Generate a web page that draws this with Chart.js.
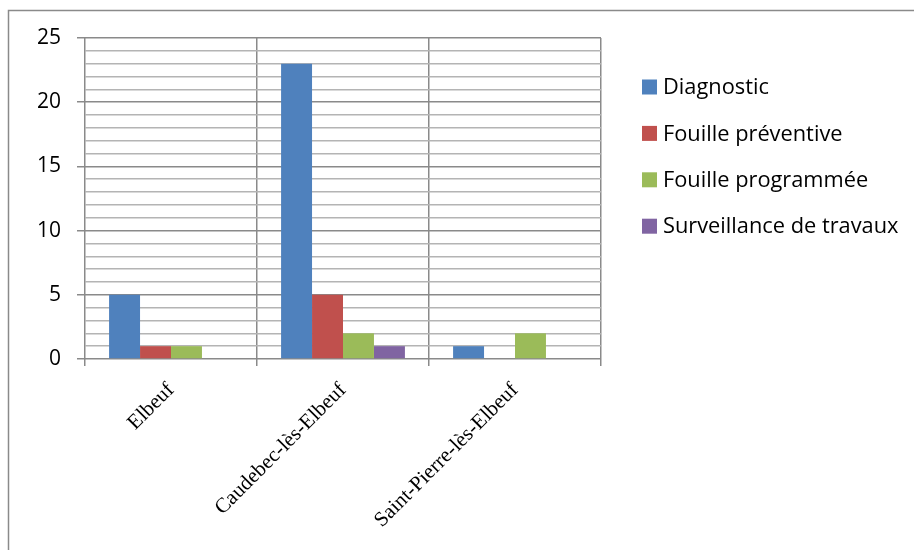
<!DOCTYPE html>
<html><head><meta charset="utf-8">
<script src="https://cdn.jsdelivr.net/npm/chart.js@4"></script>
<style>html,body{margin:0;padding:0;background:#fff}#wrap{width:914px;height:550px}</style>
</head><body><div id="wrap"><canvas id="c"></canvas></div>
<script>
const categories = ['Elbeuf', 'Caudebec-lès-Elbeuf', 'Saint-Pierre-lès-Elbeuf'];
const seriesNames = ['Diagnostic', 'Fouille préventive', 'Fouille programmée', 'Surveillance de travaux'];
const diagnostic = [5, 23, 1];
const fouillePreventive = [1, 5, 0];
const fouilleProgrammee = [1, 2, 2];
const surveillance = [0, 1, 0];
const yTickLabels = [0, 5, 10, 15, 20, 25];
const colors = ['#4F81BD', '#C0504D', '#9BBB59', '#8064A2'];

const seriesValues = [diagnostic, fouillePreventive, fouilleProgrammee, surveillance];

const borderPlugin = {
  id: 'outerBorder',
  beforeDraw(chart) {
    const ctx = chart.ctx;
    ctx.save();
    ctx.fillStyle = '#fff';
    ctx.fillRect(0, 0, chart.width, chart.height);
    ctx.strokeStyle = '#8a8a8a';
    ctx.lineWidth = 1.5;
    ctx.strokeRect(8.5, 10.5, chart.width + 20, chart.height + 20);
    ctx.restore();
  }
};

// Legend drawn from the datasets (the built-in side legend is capped in width)
const sideLegend = {
  id: 'sideLegend',
  afterDraw(chart) {
    const ctx = chart.ctx;
    const area = chart.chartArea;
    const x0 = area.right + 41;
    const y0 = area.top + 49;
    const step = 46.4;
    ctx.save();
    ctx.font = '21.8px "Open Sans"';
    ctx.textBaseline = 'middle';
    ctx.textAlign = 'left';
    chart.data.datasets.forEach((ds, i) => {
      const cy = y0 + i * step;
      ctx.fillStyle = ds.backgroundColor;
      ctx.fillRect(x0, cy - 7.5, 15, 15);
      ctx.fillStyle = '#000';
      ctx.fillText(ds.label, x0 + 21, cy + 1);
    });
    ctx.restore();
  }
};

function build() {
  new Chart(document.getElementById('c'), {
    type: 'bar',
    data: {
      labels: categories,
      datasets: seriesNames.map((n, i) => ({
        label: n,
        data: seriesValues[i],
        backgroundColor: colors[i],
        borderWidth: 0,
        categoryPercentage: 0.72,
        barPercentage: 1
      }))
    },
    options: {
      responsive: true,
      maintainAspectRatio: false,
      animation: false,
      layout: { padding: { left: 10, top: 38, right: 313, bottom: 0 } },
      plugins: {
        tooltip: { enabled: false },
        legend: { display: false }
      },
      scales: {
        x: {
          grid: {
            offset: true,
            color: '#8a8a8a',
            lineWidth: 1.5,
            tickLength: 7,
            drawTicks: true
          },
          border: { display: false },
          ticks: {
            maxRotation: 45, minRotation: 45,
            padding: 12,
            color: '#000',
            font: { family: 'Liberation Serif', size: 21 }
          },
          afterFit(s) { s.height = 191; }
        },
        y: {
          min: 0, max: 25,
          grid: {
            color: (c) => (c.tick && c.tick.value % 5 === 0) ? '#8a8a8a' : '#b4b4b4',
            tickColor: (c) => (c.tick && c.tick.value % 5 === 0) ? '#8a8a8a' : 'rgba(0,0,0,0)',
            lineWidth: 1.5,
            tickLength: 8
          },
          border: { display: false },
          ticks: {
            stepSize: 1,
            autoSkip: false,
            padding: 16,
            color: '#000',
            font: { family: 'Open Sans', size: 21 },
            callback: (v) => yTickLabels.includes(v) ? String(v) : ''
          },
          afterFit(s) { s.width = 75; }
        }
      }
    },
    plugins: [borderPlugin, sideLegend]
  });
}

Promise.all([
  document.fonts.load('21.8px "Open Sans"'),
  document.fonts.load('21px "Open Sans"'),
  document.fonts.load('21px "Liberation Serif"')
]).then(build, build);
</script>
</body></html>
